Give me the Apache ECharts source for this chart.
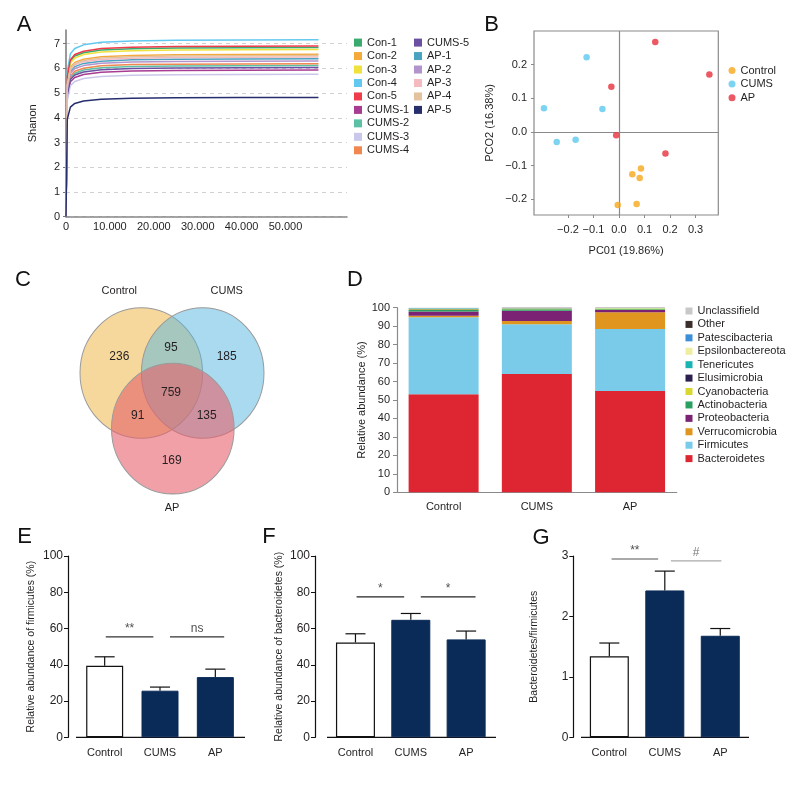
<!DOCTYPE html>
<html><head><meta charset="utf-8">
<script src="https://cdn.jsdelivr.net/npm/echarts@6/dist/echarts.min.js"></script>
<style>html,body{margin:0;padding:0;background:#fff}#c{width:792px;height:792px}</style>
</head><body><div id="c"></div>
<script>
const FONT = "'Liberation Sans',Arial,sans-serif";

// ---------- Panel A: rarefaction (Shannon) ----------
const rareNames = ['Con-1','Con-2','Con-3','Con-4','Con-5','CUMS-1','CUMS-2','CUMS-3','CUMS-4','CUMS-5','AP-1','AP-2','AP-3','AP-4','AP-5'];
const rareDepth = [0, 300, 1000, 2000, 4000, 8000, 15000, 25000, 40000, 57500];
const rareCon1  = [0, 5.61, 6.29, 6.50, 6.63, 6.74, 6.79, 6.82, 6.83, 6.84];
const rareCon2  = [0, 5.39, 6.04, 6.24, 6.37, 6.47, 6.52, 6.55, 6.56, 6.57];
const rareCon3  = [0, 5.54, 6.22, 6.42, 6.56, 6.66, 6.71, 6.74, 6.75, 6.76];
const rareCon4  = [0, 5.87, 6.59, 6.80, 6.95, 7.05, 7.11, 7.14, 7.15, 7.16];
const rareCon5  = [0, 5.66, 6.35, 6.56, 6.69, 6.80, 6.85, 6.88, 6.89, 6.90];
const rareCUMS1 = [0, 4.86, 5.46, 5.63, 5.75, 5.84, 5.89, 5.91, 5.92, 5.93];
const rareCUMS2 = [0, 5.01, 5.62, 5.80, 5.93, 6.02, 6.07, 6.09, 6.10, 6.11];
const rareCUMS3 = [0, 4.72, 5.30, 5.47, 5.59, 5.67, 5.72, 5.74, 5.75, 5.76];
const rareCUMS4 = [0, 5.08, 5.69, 5.88, 6.00, 6.10, 6.15, 6.17, 6.18, 6.19];
const rareCUMS5 = [0, 4.94, 5.55, 5.73, 5.85, 5.94, 5.99, 6.01, 6.02, 6.03];
const rareAP1   = [0, 5.24, 5.88, 6.07, 6.20, 6.29, 6.35, 6.37, 6.38, 6.39];
const rareAP2   = [0, 5.17, 5.80, 5.99, 6.11, 6.21, 6.26, 6.28, 6.29, 6.30];
const rareAP3   = [0, 5.30, 5.94, 6.14, 6.27, 6.36, 6.41, 6.44, 6.45, 6.46];
const rareAP4   = [0, 5.35, 6.00, 6.19, 6.32, 6.42, 6.47, 6.50, 6.51, 6.52];
const rareAP5   = [0, 3.95, 4.43, 4.58, 4.68, 4.75, 4.79, 4.81, 4.82, 4.82];
const rareValues = [rareCon1, rareCon2, rareCon3, rareCon4, rareCon5, rareCUMS1, rareCUMS2, rareCUMS3, rareCUMS4, rareCUMS5, rareAP1, rareAP2, rareAP3, rareAP4, rareAP5];
const rareXTicks = [0, 10000, 20000, 30000, 40000, 50000];
const rareYTicks = [0, 1, 2, 3, 4, 5, 6, 7];

// ---------- Panel B: PCoA ----------
const pcoaGroups = ['Control', 'CUMS', 'AP'];
const pcoaControl = [[0.086, -0.109], [0.052, -0.126], [0.081, -0.137], [-0.005, -0.217], [0.069, -0.214]];
const pcoaCUMS = [[-0.127, 0.222], [-0.294, 0.070], [-0.065, 0.068], [-0.244, -0.030], [-0.170, -0.023]];
const pcoaAP = [[0.142, 0.267], [0.354, 0.171], [-0.030, 0.134], [-0.011, -0.010], [0.182, -0.064]];
const pcoaXTicks = [-0.2, -0.1, 0.0, 0.1, 0.2, 0.3];
const pcoaYTicks = [-0.2, -0.1, 0.0, 0.1, 0.2];

// ---------- Panel C: Venn ----------
const vennSets = ['Control', 'CUMS', 'AP'];
const vennRegions = ['Control', 'Control∩CUMS', 'CUMS', 'Control∩CUMS∩AP', 'Control∩AP', 'CUMS∩AP', 'AP'];
const vennCounts = [236, 95, 185, 759, 91, 135, 169];

// ---------- Panel D: phylum composition ----------
const groups = ['Control', 'CUMS', 'AP'];
const phyla = ['Bacteroidetes','Firmicutes','Verrucomicrobia','Proteobacteria','Actinobacteria','Cyanobacteria','Elusimicrobia','Tenericutes','Epsilonbactereota','Patescibacteria','Other','Unclassifield'];
const phylaControl = [53.1, 41.7, 0.8, 2.4, 0.7, 0.5, 0.1, 0.2, 0.2, 0.1, 0.1, 0.1];
const phylaCUMS    = [64.1, 26.9, 1.8, 5.6, 0.7, 0.3, 0.1, 0.2, 0.1, 0.1, 0.05, 0.05];
const phylaAP      = [54.9, 33.6, 9.0, 1.3, 0.3, 0.4, 0.1, 0.1, 0.1, 0.1, 0.05, 0.05];

// ---------- Panels E, F, G ----------
const firmMean = [39.4, 25.7, 33.2];
const firmErr  = [5.0, 2.0, 4.4];
const bactMean = [52.3, 64.8, 54.0];
const bactErr  = [4.8, 3.5, 4.6];
const ratioMean = [1.34, 2.43, 1.68];
const ratioErr  = [0.22, 0.32, 0.12];
const sigEText = ['**', 'ns'];  const sigELevel = [55.4, 55.4];
const sigFText = ['*', '*'];    const sigFLevel = [77.5, 77.5];
const sigGText = ['**', '#'];   const sigGLevel = [2.95, 2.92];

// ---------- styles / layout ----------
const rareColors = ['#3aaa6e','#f4a93a','#efe23c','#62c8ef','#ef3b4a','#a83c92','#5cc0a5','#c9c7ea','#f08650','#6a4fa2','#4aa3c0','#b293cc','#f5b9c0','#e4c2a0','#262e6e'];
const pcoaColors = ['#f7a81b', '#5bc8ef', '#e9303b'];
const phylaColors = ['#de2632','#79cbe9','#e0961e','#7b2275','#2aa060','#d8d830','#2a1f4f','#1ab3b3','#eeeea0','#3b8fd8','#3a2e2a','#c8c8c8'];
const NAVY = '#0a2b57';
const TXT = '#231f20';

const chart = echarts.init(document.getElementById('c'));

function minusFmt(v) { return (v < -1e-9 ? '\u2212' : '') + Math.abs(v).toFixed(1); }

function errRender(params, api) {
  const i = api.value(0), m = api.value(1), e = api.value(2);
  const p0 = api.coord([i, m]), p1 = api.coord([i, m + e]);
  const st = { stroke: '#111', lineWidth: 1.2 };
  return { type: 'group', children: [
    { type: 'line', shape: { x1: p0[0], y1: p0[1], x2: p1[0], y2: p1[1] }, style: st },
    { type: 'line', shape: { x1: p1[0] - 10, y1: p1[1], x2: p1[0] + 10, y2: p1[1] }, style: st }
  ]};
}

const series = [];
// A
rareNames.forEach((n, k) => {
  series.push({ type: 'line', name: n, xAxisIndex: 0, yAxisIndex: 0, showSymbol: false, symbol: 'none',
    color: rareColors[k], lineStyle: { width: 1.5, color: rareColors[k] }, silent: true,
    data: rareDepth.map((d, i) => [d, rareValues[k][i]]) });
});
// B
[pcoaControl, pcoaCUMS, pcoaAP].forEach((pts, k) => {
  const s = { type: 'scatter', name: pcoaGroups[k], xAxisIndex: 1, yAxisIndex: 1, symbolSize: 6.5,
    color: pcoaColors[k], itemStyle: { color: pcoaColors[k] }, data: pts, z: 5 };
  if (k === 0) s.markLine = { silent: true, symbol: 'none', label: { show: false },
    lineStyle: { color: '#8a8a8a', width: 1.2, type: 'solid' }, data: [{ xAxis: 0 }, { yAxis: 0 }] };
  series.push(s);
});
// D
const phylaByGroup = [phylaControl, phylaCUMS, phylaAP];
phyla.forEach((p, k) => {
  series.push({ type: 'bar', name: p, stack: 'd', xAxisIndex: 2, yAxisIndex: 2, barWidth: 70,
    color: phylaColors[k], itemStyle: { color: phylaColors[k] },
    data: phylaByGroup.map(g => g[k]) });
});
// E F G
function barPanel(xCat, xVal, yIdx, mean, err, bw, sigText, sigLevel, sigSpan, sigColors, axisExt) {
  // x axis line extended to meet the offset y axis (Prism style)
  series.push({ type: 'line', xAxisIndex: xVal, yAxisIndex: yIdx, showSymbol: false, symbol: 'none', silent: true, clip: false,
    lineStyle: { color: '#111', width: 1.2 }, data: [[axisExt[0], 0], [axisExt[1], 0]], z: 1 });
  series.push({ type: 'bar', xAxisIndex: xCat, yAxisIndex: yIdx, barWidth: bw, z: 3,
    data: mean.map((v, i) => ({ value: v, itemStyle: i === 0 ? { color: '#fff', borderColor: '#111', borderWidth: 1.2 } : { color: NAVY, borderColor: NAVY, borderWidth: 1 } })) });
  series.push({ type: 'custom', xAxisIndex: xCat, yAxisIndex: yIdx, renderItem: errRender, z: 6,
    encode: { x: 0, y: 1 }, data: mean.map((v, i) => [i, v, err[i]]) });
  sigText.forEach((t, j) => {
    series.push({ type: 'line', xAxisIndex: xVal, yAxisIndex: yIdx, showSymbol: false, symbol: 'none', silent: true,
      lineStyle: { color: sigColors[j], width: 1.2 }, data: [[sigSpan[j][0], sigLevel[j]], [sigSpan[j][1], sigLevel[j]]] });
    series.push({ type: 'scatter', xAxisIndex: xVal, yAxisIndex: yIdx, symbolSize: 0.1, clip: false, silent: true,
      itemStyle: { color: 'rgba(0,0,0,0)' },
      label: { show: true, position: 'top', distance: 2, formatter: t, fontFamily: FONT, fontSize: 12, color: sigColors[j] === '#aaa' ? '#555' : '#222' },
      data: [[(sigSpan[j][0] + sigSpan[j][1]) / 2, sigLevel[j]]] });
  });
}
barPanel(3, 4, 3, firmMean, firmErr, 37, sigEText, sigELevel, [[0.02, 0.88], [1.18, 2.16]], ['#333', '#333'], [-0.68, 2.63]);
barPanel(5, 6, 4, bactMean, bactErr, 39, sigFText, sigFLevel, [[0.02, 0.88], [1.18, 2.17]], ['#222', '#222'], [-0.73, 2.64]);
barPanel(7, 8, 5, ratioMean, ratioErr, 39, sigGText, sigGLevel, [[0.04, 0.88], [1.11, 2.02]], ['#555', '#aaa'], [-0.71, 2.63]);

const lbl = (o) => Object.assign({ fontFamily: FONT, color: TXT, fontSize: 11 }, o || {});

function catAxis(grid, lineColor, margin) {
  return { type: 'category', gridIndex: grid, data: groups,
    axisLine: { onZero: false, lineStyle: { color: lineColor, width: 1.2 } },
    axisTick: { alignWithLabel: true, length: 4, lineStyle: { color: lineColor } },
    axisLabel: lbl({ margin: margin }) };
}
function hiddenVal(grid) { return { type: 'value', gridIndex: grid, min: -0.5, max: 2.5, show: false }; }
function efgY(grid, max, interval, name, offset, gap) {
  return { type: 'value', gridIndex: grid, min: 0, max: max, interval: interval, offset: offset,
    name: name, nameLocation: 'middle', nameGap: gap, nameTextStyle: lbl({ fontSize: 10.5 }),
    axisLine: { show: true, onZero: false, lineStyle: { color: '#111', width: 1.2 } },
    axisTick: { show: true, length: 4, lineStyle: { color: '#111' } },
    axisLabel: lbl({ fontSize: 12, margin: 5 }), splitLine: { show: false } };
}

const option = {
  animation: false,
  textStyle: { fontFamily: FONT },
  grid: [
    { left: 66, top: 30, width: 281, height: 186.7 },
    { left: 534, top: 31, width: 184.3, height: 184, show: true, borderColor: '#8a8a8a', borderWidth: 1.2 },
    { left: 397, top: 307.7, width: 279.7, height: 184.6 },
    { left: 77, top: 556, width: 166, height: 181.3 },
    { left: 327.8, top: 556, width: 166, height: 181.3 },
    { left: 581.6, top: 556, width: 166.4, height: 181.3 }
  ],
  xAxis: [
    { type: 'value', gridIndex: 0, min: 0, max: 64000,
      axisLine: { show: true, onZero: false, lineStyle: { color: '#888', width: 1.5 } }, axisTick: { show: false, customValues: rareXTicks },
      axisLabel: lbl({ margin: 5, customValues: rareXTicks, formatter: v => v === 0 ? '0' : (v / 1000) + '.000' }),
      splitLine: { show: false } },
    { type: 'value', gridIndex: 1, min: -0.333, max: 0.389,
      name: 'PC01 (19.86%)', nameLocation: 'middle', nameGap: 30, nameTextStyle: lbl(),
      axisLine: { show: false, onZero: false }, axisTick: { show: true, length: 3, customValues: pcoaXTicks, lineStyle: { color: '#8a8a8a' } },
      axisLabel: lbl({ margin: 9, customValues: pcoaXTicks, formatter: minusFmt, hideOverlap: false, showMinLabel: true, showMaxLabel: true }), splitLine: { show: false } },
    catAxis(2, '#8a8a8a', 9),
    catAxis(3, '#111', 10), hiddenVal(3),
    catAxis(4, '#111', 10), hiddenVal(4),
    catAxis(5, '#111', 10), hiddenVal(5)
  ],
  yAxis: [
    { type: 'value', gridIndex: 0, min: 0, max: 7.55,
      name: 'Shanon', nameLocation: 'middle', nameGap: 28, nameTextStyle: lbl(),
      axisLine: { show: true, onZero: false, lineStyle: { color: '#777', width: 1.5 } },
      axisTick: { show: true, length: 3, customValues: rareYTicks, lineStyle: { color: '#777' } },
      axisLabel: lbl({ margin: 6, customValues: rareYTicks }),
      splitLine: { show: true, lineStyle: { color: '#d0d0d0', type: [4, 4], width: 1 } } },
    { type: 'value', gridIndex: 1, min: -0.247, max: 0.30,
      name: 'PCO2 (16.38%)', nameLocation: 'middle', nameGap: 39, nameTextStyle: lbl(),
      axisLine: { show: false, onZero: false }, axisTick: { show: true, length: 3, customValues: pcoaYTicks, lineStyle: { color: '#8a8a8a' } },
      axisLabel: lbl({ margin: 7, customValues: pcoaYTicks, formatter: minusFmt, hideOverlap: false }), splitLine: { show: false } },
    { type: 'value', gridIndex: 2, min: 0, max: 100, interval: 10,
      name: 'Relative abundance (%)', nameLocation: 'middle', nameGap: 30, nameTextStyle: lbl(),
      axisLine: { show: true, onZero: false, lineStyle: { color: '#8a8a8a', width: 1.2 } },
      axisTick: { show: true, length: 4, lineStyle: { color: '#8a8a8a' } },
      axisLabel: lbl({ margin: 7 }), splitLine: { show: false } },
    efgY(3, 100, 20, 'Relative abundance of firmicutes (%)', 9, 31),
    efgY(4, 100, 20, 'Relative abundance of bacteroidetes (%)', 12.8, 30),
    efgY(5, 3, 1, 'Bacteroidetes/firmicutes', 8.3, 34)
  ],
  legend: [
    { left: 354, top: 36.6, orient: 'vertical', padding: 0, icon: 'rect', itemWidth: 8, itemHeight: 8, itemGap: 1.46,
      textStyle: lbl({ fontSize: 11, lineHeight: 12 }), data: rareNames.slice(0, 9), selectedMode: false },
    { left: 414, top: 36.6, orient: 'vertical', padding: 0, icon: 'rect', itemWidth: 8, itemHeight: 8, itemGap: 1.46,
      textStyle: lbl({ fontSize: 11, lineHeight: 12 }), data: rareNames.slice(9), selectedMode: false },
    { left: 728.5, top: 64.5, orient: 'vertical', padding: 0, icon: 'circle', itemWidth: 7, itemHeight: 7, itemGap: 1.6,
      textStyle: lbl({ fontSize: 11, lineHeight: 12 }), data: pcoaGroups, selectedMode: false },
    { left: 685.5, top: 305, orient: 'vertical', padding: 0, icon: 'rect', itemWidth: 7, itemHeight: 7, itemGap: 1.42,
      textStyle: lbl({ fontSize: 11, lineHeight: 12 }), data: phyla.slice().reverse(), selectedMode: false }
  ],
  graphic: [],
  series: series
};

// panel letters
[['A', 24, 25], ['B', 491.7, 25], ['C', 23, 280], ['D', 355, 280], ['E', 24.5, 536.5], ['F', 269, 536.5], ['G', 541, 538]].forEach(l => {
  option.graphic.push({ type: 'text', x: l[1], y: l[2], style: { text: l[0], fontFamily: FONT, fontSize: 22, fill: '#111', align: 'center', verticalAlign: 'middle' } });
});
// Venn
const vennLayout = [
  { cx: 141.3, cy: 373, fill: 'rgba(240,190,90,0.6)' },
  { cx: 202.7, cy: 373, fill: 'rgba(83,181,223,0.5)' },
  { cx: 172.8, cy: 428.6, fill: 'rgba(230,97,107,0.6)' }
];
vennLayout.forEach(c => {
  option.graphic.push({ type: 'circle', x: c.cx, y: c.cy, scaleY: 65.3 / 61.3, shape: { cx: 0, cy: 0, r: 61.3 },
    style: { fill: c.fill, stroke: '#9a9a9a', lineWidth: 1 } });
});
const vennNamePos = [[119.3, 290.7], [226.7, 290.7], [172, 508.3]];
vennSets.forEach((n, i) => option.graphic.push({ type: 'text', x: vennNamePos[i][0], y: vennNamePos[i][1],
  style: { text: n, fontFamily: FONT, fontSize: 11, fill: TXT, align: 'center', verticalAlign: 'middle' } }));
const vennCountPos = [[119.3, 356.7], [171, 347.3], [226.7, 356.5], [171, 392.3], [137.7, 415.7], [206.7, 415.7], [171.7, 461]];
vennCounts.forEach((n, i) => option.graphic.push({ type: 'text', x: vennCountPos[i][0], y: vennCountPos[i][1],
  style: { text: String(n), fontFamily: FONT, fontSize: 12, fill: TXT, align: 'center', verticalAlign: 'middle' } }));

chart.setOption(option);
</script></body></html>
